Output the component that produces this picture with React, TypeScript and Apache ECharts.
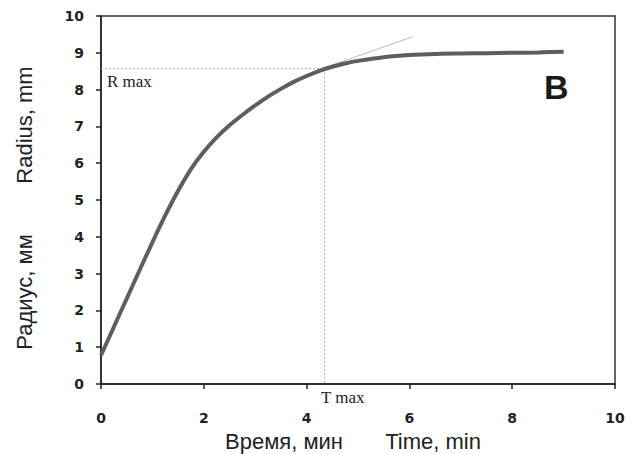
import React, { useEffect, useRef } from "react";
import * as echarts from "echarts";

const timeMin = [0, 0.25, 0.5, 0.75, 1, 1.25, 1.5, 1.75, 2, 2.25, 2.5, 2.75, 3, 3.25, 3.5, 3.75, 4, 4.25, 4.5, 4.75, 5, 5.5, 6, 6.5, 7, 7.5, 8, 8.5, 9];
const radiusMm = [0.78, 1.55, 2.32, 3.09, 3.85, 4.58, 5.25, 5.84, 6.31, 6.7, 7.03, 7.31, 7.57, 7.81, 8.02, 8.21, 8.37, 8.51, 8.62, 8.71, 8.78, 8.88, 8.94, 8.97, 8.98, 8.99, 9.0, 9.01, 9.03];
const tangentX = [4.3, 6.05];
const tangentY = [8.57, 9.43];
const rMax = 8.57;
const tMax = 4.35;
const xTicks = [0, 2, 4, 6, 8, 10];
const yTicks = [0, 1, 2, 3, 4, 5, 6, 7, 8, 9, 10];

export default function App() {
  const ref = useRef<HTMLDivElement>(null);
  useEffect(() => {
    document.body.style.margin = "0";
    const chart = echarts.init(ref.current!, null, { renderer: "svg" });
    const labelFont = { fontFamily: "DejaVu Sans", fontWeight: "bold" as const, fontSize: 14, color: "#222" };
    chart.setOption({
      animation: false,
      backgroundColor: "#fff",
      grid: { left: 101, top: 16, right: 19, bottom: 70, show: true, borderColor: "#333", borderWidth: 1.5 },
      xAxis: {
        type: "value",
        min: xTicks[0],
        max: xTicks[xTicks.length - 1],
        interval: 2,
        axisLine: { lineStyle: { color: "#222", width: 1.5 } },
        axisTick: { show: true, length: 5, lineStyle: { color: "#222", width: 1.5 } },
        axisLabel: { ...labelFont, margin: 27 },
        splitLine: { show: false },
      },
      yAxis: {
        type: "value",
        min: yTicks[0],
        max: yTicks[yTicks.length - 1],
        interval: 1,
        axisLine: { show: true, lineStyle: { color: "#222", width: 1.5 } },
        axisTick: { show: true, length: 5, lineStyle: { color: "#222", width: 1.5 } },
        axisLabel: { ...labelFont, margin: 17 },
        splitLine: { show: false },
      },
      series: [
        {
          type: "line",
          data: [[0, rMax], [tMax, rMax]],
          symbol: "none",
          silent: true,
          lineStyle: { color: "#aaa", width: 1, type: [2, 2] },
        },
        {
          type: "line",
          data: [[tMax, rMax], [tMax, 0]],
          symbol: "none",
          silent: true,
          lineStyle: { color: "#aaa", width: 1, type: [2, 2] },
        },
        {
          type: "line",
          data: tangentX.map((x, i) => [x, tangentY[i]]),
          symbol: "none",
          silent: true,
          lineStyle: { color: "#bbb", width: 1 },
        },
        {
          type: "line",
          data: timeMin.map((x, i) => [x, radiusMm[i]]),
          symbol: "none",
          smooth: 0.25,
          lineStyle: { color: "#5e5e5e", width: 4 },
        },
      ],
      graphic: [
        { type: "text", x: 107, y: 81, style: { text: "R max", font: "17px 'Liberation Serif'", fill: "#222", verticalAlign: "middle" } },
        { type: "text", x: 321, y: 397, style: { text: "T max", font: "17px 'Liberation Serif'", fill: "#222", verticalAlign: "middle" } },
        { type: "text", x: 544, y: 87, style: { text: "B", font: "bold 34px 'Liberation Sans'", fill: "#1a1a1a", verticalAlign: "middle" } },
        { type: "text", x: 24, y: 125, rotation: Math.PI / 2, style: { text: "Radius, mm", font: "22px 'Liberation Sans'", fill: "#222", align: "center", verticalAlign: "middle" } },
        { type: "text", x: 24, y: 292, rotation: Math.PI / 2, style: { text: "Радиус, мм", font: "22px 'Liberation Sans'", fill: "#222", align: "center", verticalAlign: "middle" } },
        { type: "text", x: 284, y: 441, style: { text: "Время, мин", font: "22px 'Liberation Sans'", fill: "#222", align: "center", verticalAlign: "middle" } },
        { type: "text", x: 433, y: 441, style: { text: "Time, min", font: "22px 'Liberation Sans'", fill: "#222", align: "center", verticalAlign: "middle" } },
      ],
    });
    return () => chart.dispose();
  }, []);
  return <div ref={ref} style={{ width: 634, height: 454 }} />;
}
